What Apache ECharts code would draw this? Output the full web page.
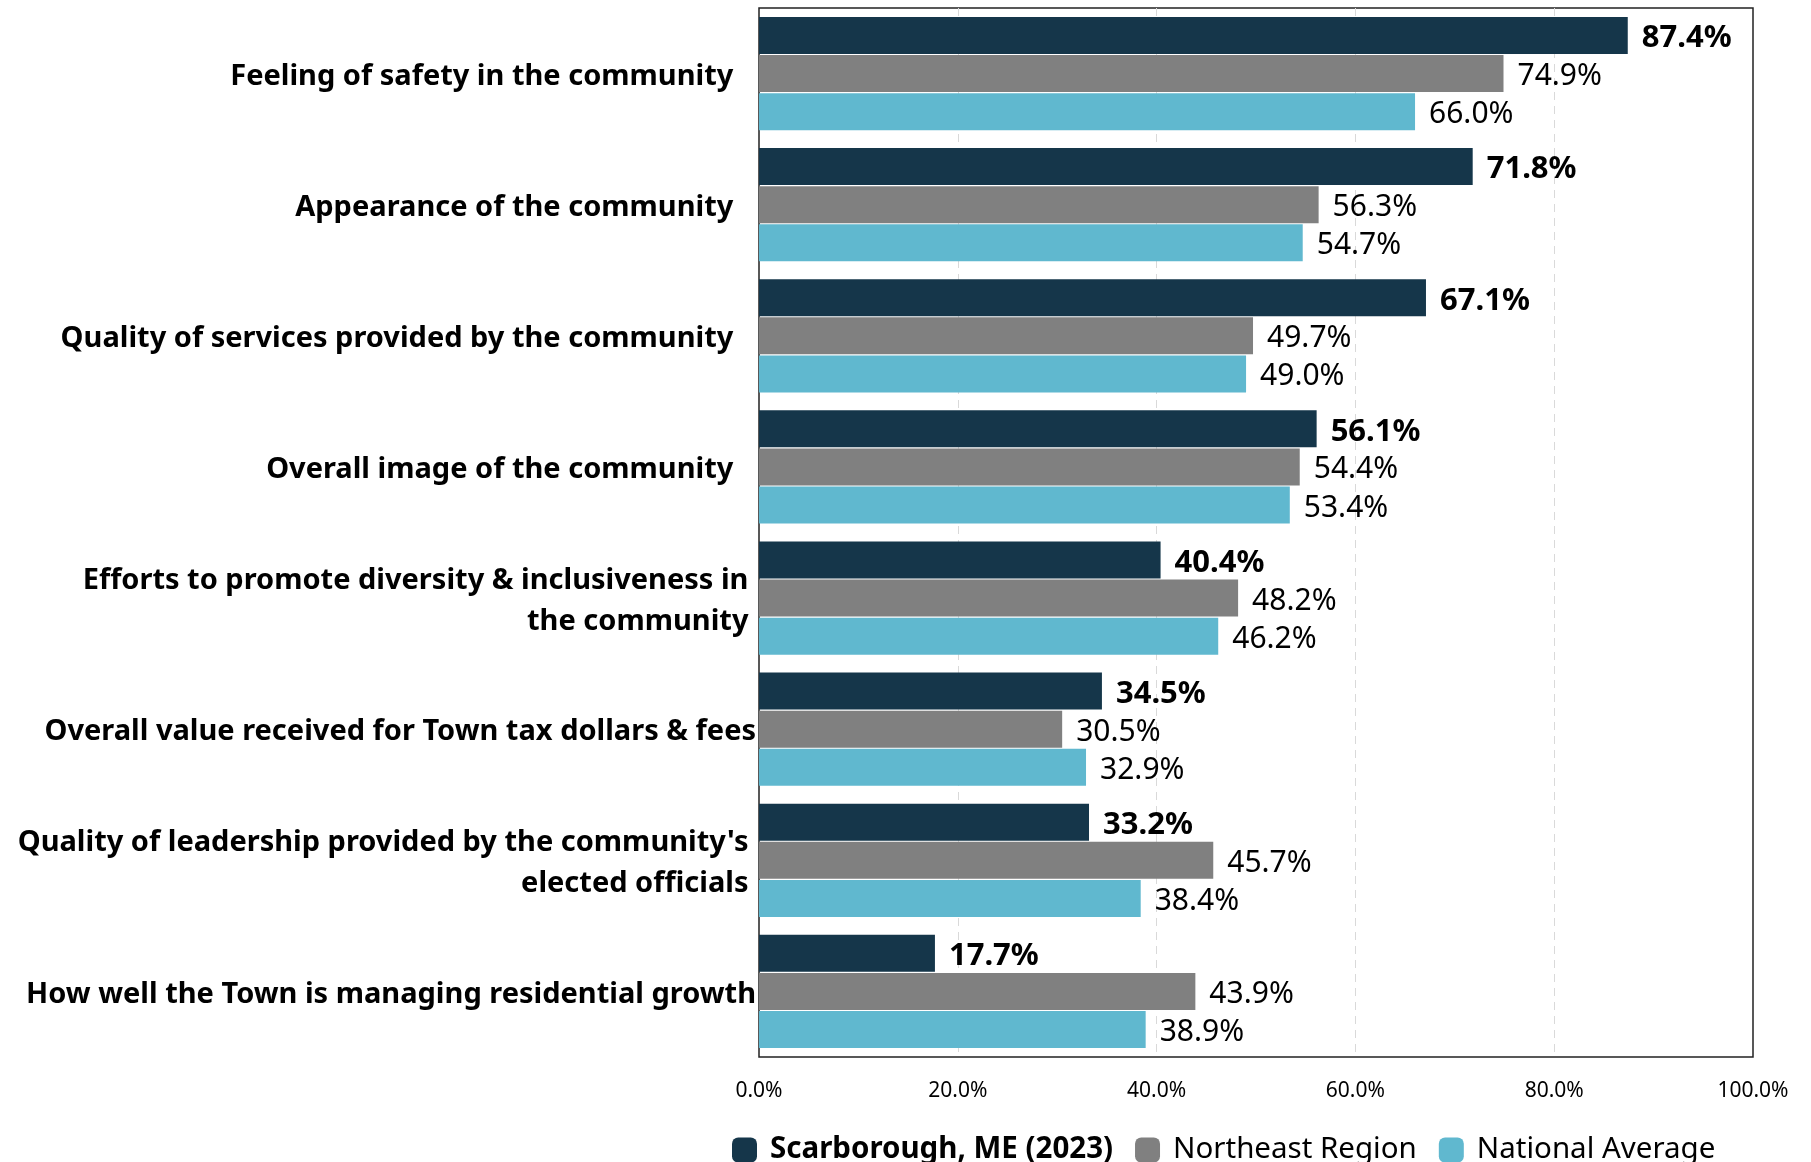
<!DOCTYPE html>
<html><head><meta charset="utf-8">
<script src="https://cdn.jsdelivr.net/npm/echarts@6/dist/echarts.min.js"></script>
<style>html,body{margin:0;padding:0;background:#fff}#c{width:1811px;height:1162px}</style>
</head><body><div id="c"></div>
<script>
var categories = [
  "Feeling of safety in the community   ",
  "Appearance of the community   ",
  "Quality of services provided by the community   ",
  "Overall image of the community   ",
  "Efforts to promote diversity & inclusiveness in \nthe community ",
  "Overall value received for Town tax dollars & fees",
  "Quality of leadership provided by the community's \nelected officials ",
  "How well the Town is managing residential growth"
];
var scarborough = [87.4, 71.8, 67.1, 56.1, 40.4, 34.5, 33.2, 17.7];
var northeast   = [74.9, 56.3, 49.7, 54.4, 48.2, 30.5, 45.7, 43.9];
var national    = [66.0, 54.7, 49.0, 53.4, 46.2, 32.9, 38.4, 38.9];
var seriesNames = ["Scarborough, ME (2023)", "Northeast Region", "National Average"];
var colors = ["#15364A", "#808080", "#60B8CF"];
var xTicks = [0, 20, 40, 60, 80, 100];

var chart = echarts.init(document.getElementById('c'), null, {renderer: 'canvas'});
var FONT = "'Noto Sans', 'Open Sans', sans-serif";
function mk(name, data, color, bold) {
  return {
    name: name, type: 'bar', data: data, barWidth: 37, barGap: '3%',
    itemStyle: {color: color},
    label: {show: true, position: 'right', distance: 14, offset: [0, 3],
      formatter: function(p){ return p.value.toFixed(1) + '%'; },
      fontFamily: FONT, fontSize: bold ? 31 : 30, fontWeight: bold ? 'bold' : 'normal', color: '#000'}
  };
}
chart.setOption({
  animation: false,
  color: colors,
  grid: {left: 759, right: 58, top: 8, bottom: 105, show: true, borderColor: '#222', borderWidth: 1.5, containLabel: false},
  legend: {
    bottom: -8, left: 727, itemWidth: 25, itemHeight: 25, itemGap: 22,
    data: seriesNames,
    textStyle: {fontFamily: FONT, fontSize: 29.5, color: '#000',
      rich: {
        b: {fontFamily: FONT, fontSize: 29.5, fontWeight: 'bold', color: '#000', padding: [0, 0, 0, 8]},
        n: {fontFamily: FONT, fontSize: 29.5, color: '#000', padding: [0, 0, 0, 8]}
      }},
    formatter: function(n){ return n === seriesNames[0] ? '{b|' + n + '}' : '{n|' + n + '}'; }
  },
  xAxis: {
    type: 'value', min: 0, max: 100, interval: 20,
    axisLine: {show: false}, axisTick: {show: false},
    splitLine: {show: true, showMinLine: false, showMaxLine: false, lineStyle: {color: '#d9d9d9', type: [8, 6], width: 1}},
    axisLabel: {margin: 24, fontFamily: FONT, fontSize: 21, color: '#000',
      formatter: function(v){ return xTicks.indexOf(v) >= 0 ? v.toFixed(1) + '%' : ''; }}
  },
  yAxis: {
    type: 'category', data: categories, inverse: true,
    axisLine: {show: false}, axisTick: {show: false},
    axisLabel: {margin: 3, fontFamily: FONT, fontSize: 29, fontWeight: 'bold', color: '#000', align: 'right',
      formatter: function(v){ return '{t|' + v.split('\n').join('}\n{t|') + '}'; },
      rich: {t: {fontFamily: FONT, fontSize: 29, fontWeight: 'bold', color: '#000', lineHeight: 41, padding: [6, 0, 0, 0]}}}
  },
  series: [
    mk(seriesNames[0], scarborough, colors[0], true),
    mk(seriesNames[1], northeast, colors[1], false),
    mk(seriesNames[2], national, colors[2], false)
  ]
});
</script></body></html>
